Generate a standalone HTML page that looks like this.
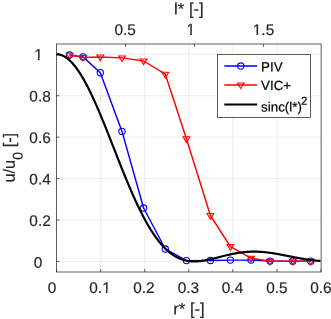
<!DOCTYPE html>
<html><head><meta charset="utf-8"><title>chart</title>
<style>
html,body{margin:0;padding:0;background:#fff;}
body{width:331px;height:319px;overflow:hidden;font-family:"Liberation Sans",sans-serif;}
svg{display:block;}
text{font-family:"Liberation Sans",sans-serif;fill:#262626;stroke:#262626;stroke-width:0.18px;}
.lg text{fill:#000;stroke:#000;stroke-width:0.2px;}
</style></head><body>
<svg width="331" height="319" viewBox="0 0 331 319">
<defs><filter id="sf" x="0" y="0" width="331" height="319" filterUnits="userSpaceOnUse"><feOffset dx="0" dy="0"/></filter><clipPath id="c0"><path clip-rule="evenodd" d="M86.30,277.50H113.70V296.90H86.30ZM102.31,290.60H105.86V294.40H102.31ZM107.52,290.60H110.95V294.40H107.52Z"/></clipPath><clipPath id="c1"><path clip-rule="evenodd" d="M183.57,19.60H198.13V39.00H183.57ZM186.74,32.70H190.29V36.50H186.74ZM191.95,32.70H195.38V36.50H191.95Z"/></clipPath><clipPath id="c2"><path clip-rule="evenodd" d="M249.80,19.60H277.20V39.00H249.80ZM252.97,32.70H256.52V36.50H252.97ZM258.18,32.70H261.61V36.50H258.18Z"/></clipPath><clipPath id="c3"><path clip-rule="evenodd" d="M31.17,44.80H45.73V64.20H31.17ZM34.34,57.90H37.89V61.70H34.34ZM39.55,57.90H42.98V61.70H39.55Z"/></clipPath></defs>
<rect width="331" height="319" fill="#fff"/>
<g filter="url(#sf)">
<g stroke="#262626" stroke-opacity="0.10" stroke-width="0.8" fill="none"><line x1="100.60" y1="44.0" x2="100.60" y2="272.0"/><line x1="144.70" y1="44.0" x2="144.70" y2="272.0"/><line x1="188.80" y1="44.0" x2="188.80" y2="272.0"/><line x1="232.90" y1="44.0" x2="232.90" y2="272.0"/><line x1="277.00" y1="44.0" x2="277.00" y2="272.0"/><line x1="56.5" y1="261.40" x2="321.1" y2="261.40"/><line x1="56.5" y1="219.98" x2="321.1" y2="219.98"/><line x1="56.5" y1="178.56" x2="321.1" y2="178.56"/><line x1="56.5" y1="137.14" x2="321.1" y2="137.14"/><line x1="56.5" y1="95.72" x2="321.1" y2="95.72"/><line x1="56.5" y1="54.30" x2="321.1" y2="54.30"/></g>
<g stroke="#262626" stroke-width="0.74" fill="none"><line x1="56.50" y1="272.0" x2="56.50" y2="269.1"/><line x1="100.60" y1="272.0" x2="100.60" y2="269.1"/><line x1="144.70" y1="272.0" x2="144.70" y2="269.1"/><line x1="188.80" y1="272.0" x2="188.80" y2="269.1"/><line x1="232.90" y1="272.0" x2="232.90" y2="269.1"/><line x1="277.00" y1="272.0" x2="277.00" y2="269.1"/><line x1="321.10" y1="272.0" x2="321.10" y2="269.1"/><line x1="125.50" y1="44.0" x2="125.50" y2="46.9"/><line x1="194.55" y1="44.0" x2="194.55" y2="46.9"/><line x1="263.60" y1="44.0" x2="263.60" y2="46.9"/><line x1="56.5" y1="261.40" x2="59.4" y2="261.40"/><line x1="56.5" y1="219.98" x2="59.4" y2="219.98"/><line x1="56.5" y1="178.56" x2="59.4" y2="178.56"/><line x1="56.5" y1="137.14" x2="59.4" y2="137.14"/><line x1="56.5" y1="95.72" x2="59.4" y2="95.72"/><line x1="56.5" y1="54.30" x2="59.4" y2="54.30"/></g>
<rect x="56.5" y="44.0" width="264.60" height="228.00" fill="none" stroke="#262626" stroke-width="0.74"/>
<polyline points="69.5,55.0 83.0,56.9 100.3,72.7 122.0,131.4 143.6,208.0 165.3,249.0 186.4,260.6 210.4,260.5 230.4,260.1 251.0,260.1 270.0,261.1 292.8,261.2 310.7,261.2" fill="none" stroke="#0000ff" stroke-width="1.45" stroke-linejoin="round"/>
<g fill="none" stroke="#0000ff" stroke-width="1.1"><circle cx="69.5" cy="55.0" r="3.15"/><circle cx="83.0" cy="56.9" r="3.15"/><circle cx="100.3" cy="72.7" r="3.15"/><circle cx="122.0" cy="131.4" r="3.15"/><circle cx="143.6" cy="208.0" r="3.15"/><circle cx="165.3" cy="249.0" r="3.15"/><circle cx="186.4" cy="260.6" r="3.15"/><circle cx="210.4" cy="260.5" r="3.15"/><circle cx="230.4" cy="260.1" r="3.15"/><circle cx="251.0" cy="260.1" r="3.15"/><circle cx="270.0" cy="261.1" r="3.15"/><circle cx="292.8" cy="261.2" r="3.15"/><circle cx="310.7" cy="261.2" r="3.15"/></g>
<polyline points="69.5,55.2 83.0,57.4 100.3,57.0 122.0,57.9 143.6,61.0 165.3,74.2 186.4,138.7 210.4,215.5 230.4,246.6 251.0,258.2 270.0,261.3 292.8,261.2 310.7,261.2" fill="none" stroke="#ff0000" stroke-width="1.45" stroke-linejoin="round"/>
<g fill="none" stroke="#ff0000" stroke-width="1.1" stroke-linejoin="miter"><path d="M66.15,53.25L72.85,53.25L69.50,58.85Z"/><path d="M79.65,55.45L86.35,55.45L83.00,61.05Z"/><path d="M96.95,55.05L103.65,55.05L100.30,60.65Z"/><path d="M118.65,55.95L125.35,55.95L122.00,61.55Z"/><path d="M140.25,59.05L146.95,59.05L143.60,64.65Z"/><path d="M161.95,72.25L168.65,72.25L165.30,77.85Z"/><path d="M183.05,136.75L189.75,136.75L186.40,142.35Z"/><path d="M207.05,213.55L213.75,213.55L210.40,219.15Z"/><path d="M227.05,244.65L233.75,244.65L230.40,250.25Z"/><path d="M247.65,256.25L254.35,256.25L251.00,261.85Z"/><path d="M266.65,259.35L273.35,259.35L270.00,264.95Z"/><path d="M289.45,259.25L296.15,259.25L292.80,264.85Z"/><path d="M307.35,259.25L314.05,259.25L310.70,264.85Z"/></g>
<polyline points="56.5,54.30 57.5,54.34 58.5,54.45 59.5,54.63 60.5,54.89 61.5,55.21 62.5,55.60 63.5,56.07 64.5,56.60 65.5,57.21 66.5,57.88 67.5,58.63 68.5,59.44 69.5,60.31 70.5,61.26 71.5,62.27 72.5,63.34 73.5,64.48 74.5,65.68 75.5,66.94 76.5,68.27 77.5,69.65 78.5,71.10 79.5,72.60 80.5,74.16 81.5,75.77 82.5,77.44 83.5,79.16 84.5,80.93 85.5,82.75 86.5,84.62 87.5,86.53 88.5,88.49 89.5,90.50 90.5,92.54 91.5,94.63 92.5,96.76 93.5,98.92 94.5,101.12 95.5,103.36 96.5,105.62 97.5,107.92 98.5,110.25 99.5,112.60 100.5,114.98 101.5,117.38 102.5,119.80 103.5,122.24 104.5,124.71 105.5,127.18 106.5,129.68 107.5,132.18 108.5,134.70 109.5,137.22 110.5,139.75 111.5,142.29 112.5,144.84 113.5,147.38 114.5,149.92 115.5,152.47 116.5,155.01 117.5,157.54 118.5,160.07 119.5,162.59 120.5,165.11 121.5,167.61 122.5,170.09 123.5,172.57 124.5,175.03 125.5,177.47 126.5,179.89 127.5,182.29 128.5,184.67 129.5,187.03 130.5,189.36 131.5,191.67 132.5,193.95 133.5,196.20 134.5,198.42 135.5,200.62 136.5,202.78 137.5,204.91 138.5,207.00 139.5,209.07 140.5,211.10 141.5,213.09 142.5,215.04 143.5,216.96 144.5,218.84 145.5,220.68 146.5,222.48 147.5,224.24 148.5,225.96 149.5,227.64 150.5,229.28 151.5,230.88 152.5,232.43 153.5,233.94 154.5,235.41 155.5,236.84 156.5,238.22 157.5,239.56 158.5,240.85 159.5,242.11 160.5,243.32 161.5,244.48 162.5,245.61 163.5,246.69 164.5,247.73 165.5,248.72 166.5,249.68 167.5,250.59 168.5,251.46 169.5,252.29 170.5,253.07 171.5,253.82 172.5,254.53 173.5,255.20 174.5,255.83 175.5,256.42 176.5,256.98 177.5,257.49 178.5,257.97 179.5,258.42 180.5,258.83 181.5,259.21 182.5,259.55 183.5,259.87 184.5,260.15 185.5,260.40 186.5,260.62 187.5,260.81 188.5,260.97 189.5,261.10 190.5,261.21 191.5,261.29 192.5,261.35 193.5,261.39 194.5,261.40 195.5,261.39 196.5,261.36 197.5,261.31 198.5,261.24 199.5,261.15 200.5,261.05 201.5,260.93 202.5,260.79 203.5,260.64 204.5,260.48 205.5,260.31 206.5,260.12 207.5,259.92 208.5,259.71 209.5,259.50 210.5,259.28 211.5,259.05 212.5,258.81 213.5,258.57 214.5,258.32 215.5,258.07 216.5,257.82 217.5,257.56 218.5,257.31 219.5,257.05 220.5,256.79 221.5,256.54 222.5,256.28 223.5,256.03 224.5,255.78 225.5,255.53 226.5,255.29 227.5,255.05 228.5,254.82 229.5,254.59 230.5,254.37 231.5,254.15 232.5,253.94 233.5,253.74 234.5,253.55 235.5,253.36 236.5,253.18 237.5,253.01 238.5,252.85 239.5,252.70 240.5,252.56 241.5,252.43 242.5,252.30 243.5,252.19 244.5,252.09 245.5,252.00 246.5,251.91 247.5,251.84 248.5,251.78 249.5,251.73 250.5,251.69 251.5,251.66 252.5,251.64 253.5,251.63 254.5,251.63 255.5,251.64 256.5,251.66 257.5,251.69 258.5,251.73 259.5,251.78 260.5,251.84 261.5,251.90 262.5,251.98 263.5,252.06 264.5,252.16 265.5,252.26 266.5,252.37 267.5,252.49 268.5,252.61 269.5,252.74 270.5,252.88 271.5,253.02 272.5,253.17 273.5,253.33 274.5,253.49 275.5,253.66 276.5,253.83 277.5,254.00 278.5,254.18 279.5,254.36 280.5,254.55 281.5,254.74 282.5,254.93 283.5,255.12 284.5,255.32 285.5,255.51 286.5,255.71 287.5,255.91 288.5,256.11 289.5,256.31 290.5,256.51 291.5,256.70 292.5,256.90 293.5,257.10 294.5,257.29 295.5,257.48 296.5,257.67 297.5,257.86 298.5,258.04 299.5,258.22 300.5,258.40 301.5,258.58 302.5,258.75 303.5,258.92 304.5,259.08 305.5,259.24 306.5,259.39 307.5,259.54 308.5,259.68 309.5,259.82 310.5,259.95 311.5,260.08 312.5,260.20 313.5,260.32 314.5,260.43 315.5,260.54 316.5,260.64 317.5,260.73 318.5,260.82 319.5,260.90 320.5,260.97" fill="none" stroke="#000" stroke-width="2.2" stroke-linejoin="round"/>
<g font-size="15.4px"><text transform="translate(47.72,292.90) rotate(0.03) scale(1,1.0)">0</text><g clip-path="url(#c0)"><text transform="translate(89.30,292.90) rotate(0.03) scale(1,1.0)">0.1</text></g><text transform="translate(133.20,292.90) rotate(0.03) scale(1,1.0)">0.2</text><text transform="translate(177.65,292.90) rotate(0.03) scale(1,1.0)">0.3</text><text transform="translate(221.80,292.90) rotate(0.03) scale(1,1.0)">0.4</text><text transform="translate(266.20,292.90) rotate(0.03) scale(1,1.0)">0.5</text><text transform="translate(310.20,292.90) rotate(0.03) scale(1,1.0)">0.6</text><text transform="translate(114.40,35.00) rotate(0.03) scale(1,1.0)">0.5</text><g clip-path="url(#c1)"><text transform="translate(186.57,35.00) rotate(0.03) scale(1,1.045)">1</text></g><g clip-path="url(#c2)"><text transform="translate(252.80,35.00) rotate(0.03) scale(1,1.0)">1.5</text></g><text transform="translate(33.67,267.80) rotate(0.03) scale(1,1.0)">0</text><text transform="translate(29.35,225.88) rotate(0.03) scale(1,1.0)">0.2</text><text transform="translate(29.35,184.46) rotate(0.03) scale(1,1.0)">0.4</text><text transform="translate(29.35,143.04) rotate(0.03) scale(1,1.0)">0.6</text><text transform="translate(29.35,101.62) rotate(0.03) scale(1,1.0)">0.8</text><g clip-path="url(#c3)"><text transform="translate(34.17,60.20) rotate(0.03) scale(1,1.045)">1</text></g></g>
<g font-size="16px">
<text transform="translate(188.9,14.6) rotate(0.03)" text-anchor="middle" font-size="16.7px">l* [-]</text>
<text transform="translate(189,314.4) rotate(0.03)" text-anchor="middle" font-size="16.7px">r* [-]</text>
<text transform="translate(14.7,182.6) rotate(-90.03)" font-size="16.3px">u/u<tspan font-size="14px" dx="0.3" dy="7.8">0</tspan><tspan dy="-7.8"> [-]</tspan></text>
</g>
<rect x="217.5" y="54.6" width="92.9" height="62.8" fill="#fff" stroke="#262626" stroke-width="0.74"/>
<line x1="224.3" y1="66.05" x2="257.2" y2="66.05" stroke="#0000ff" stroke-width="1.45"/>
<circle cx="240.75" cy="66.05" r="3.15" fill="none" stroke="#0000ff" stroke-width="1.1"/>
<line x1="224.3" y1="84.9" x2="257.2" y2="84.9" stroke="#ff0000" stroke-width="1.45"/>
<g fill="none" stroke="#ff0000" stroke-width="1.1"><path d="M237.40,82.95L244.10,82.95L240.75,88.55Z"/></g>
<line x1="224.3" y1="104.5" x2="257.2" y2="104.5" stroke="#000" stroke-width="2.2"/>
<g font-size="13.33px" class="lg">
<text transform="translate(261.1,71.6) rotate(0.03)">PIV</text>
<text transform="translate(261.1,90.1) rotate(0.03)">VIC+</text>
<text transform="translate(261.1,111.5) rotate(0.03)">sinc(l*)<tspan font-size="11.4px" dx="-0.8" dy="-6.7">2</tspan></text>
</g>
</g>
</svg>
</body></html>
